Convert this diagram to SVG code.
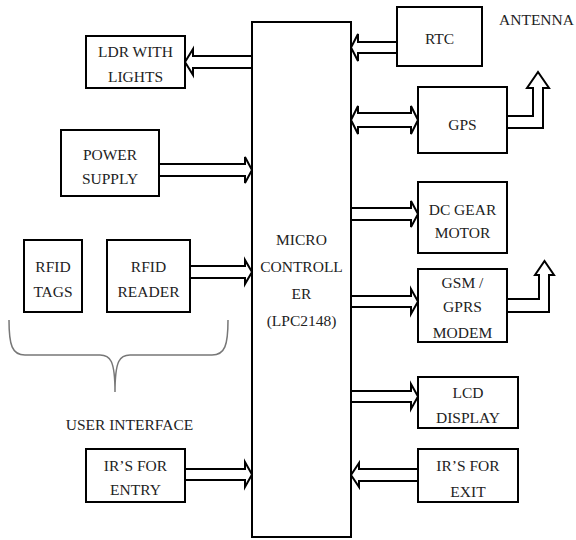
<svg xmlns="http://www.w3.org/2000/svg" width="576" height="540" viewBox="0 0 576 540">
<style>
.box{fill:#fff;stroke:#000;stroke-width:2}
.t{font-family:"Liberation Serif","Times New Roman",serif;font-size:15.5px;fill:#222;text-anchor:middle}
.ar{fill:#fff;stroke:#000;stroke-width:2;stroke-linejoin:miter}
.brace{fill:none;stroke:#777;stroke-width:1.5}
</style>
<rect width="576" height="540" fill="#fff"/>
<g id="connectors">
<path class="ar" d="M252,56 H193 V49 L185,62 L193,75 V68 H252"/>
<path class="ar" d="M159,164 H245 V157 L252,170 L245,183 V176 H159"/>
<path class="ar" d="M190,266 H245 V260 L252,272 L245,284 V278 H190"/>
<path class="ar" d="M185,469 H245 V462 L252,474.5 L245,487 V480 H185"/>
<path class="ar" d="M397,42 H358 V34 L351,47.5 L358,61 V53 H397"/>
<path class="ar" d="M358,113 H411 V106 L418,120 L411,134 V127 H358 V134 L351,120 L358,106 Z"/>
<path class="ar" d="M351,208 H411 V201 L418,214 L411,227 V220 H351"/>
<path class="ar" d="M351,296 H411 V289 L418,301.5 L411,314 V307 H351"/>
<path class="ar" d="M351,391 H411 V384 L418,396.5 L411,409 V402 H351"/>
<path class="ar" d="M418,469 H359 V463 L351,475 L359,487 V481 H418"/>
<path class="ar" d="M507,116 H533 V88 H527 L538,72 L549,88 H543 V128 H507"/>
<path class="ar" d="M507,299 H539 V275 H535 L544.5,261 L554,275 H549 V312 H507"/>
</g>
<g id="mc">
<rect class="box" x="252" y="22" width="99" height="515"/>
<text class="t" x="301.5" y="245">MICRO</text>
<text class="t" x="301.5" y="272">CONTROLL</text>
<text class="t" x="301.5" y="299">ER</text>
<text class="t" x="301.5" y="326">(LPC2148)</text>
</g>
<g id="ldr">
<rect class="box" x="86" y="36" width="99" height="52"/>
<text class="t" x="135.5" y="57">LDR WITH</text>
<text class="t" x="135.5" y="82">LIGHTS</text>
</g>
<g id="power">
<rect class="box" x="61" y="130" width="98" height="66"/>
<text class="t" x="110" y="160">POWER</text>
<text class="t" x="110" y="184">SUPPLY</text>
</g>
<g id="rfidtags">
<rect class="box" x="24" y="240" width="58" height="72"/>
<text class="t" x="53" y="272">RFID</text>
<text class="t" x="53" y="297">TAGS</text>
</g>
<g id="rfidreader">
<rect class="box" x="107" y="240" width="83" height="72"/>
<text class="t" x="148.5" y="272">RFID</text>
<text class="t" x="148.5" y="297">READER</text>
</g>
<g id="userinterface">
<path class="brace" d="M9,320 C9,345 12,355 25,355 H100 C110,355 115,360 115,392 C115,360 120,355 130,355 H212 C225,355 228,345 228,320"/>
<text class="t" x="129.5" y="430">USER INTERFACE</text>
</g>
<g id="irentry">
<rect class="box" x="86" y="449" width="99" height="53"/>
<text class="t" x="135.5" y="471">IR’S FOR</text>
<text class="t" x="135.5" y="495">ENTRY</text>
</g>
<g id="rtc">
<rect class="box" x="397" y="7" width="85" height="59"/>
<text class="t" x="439.5" y="44">RTC</text>
</g>
<g id="antenna">
<text class="t" x="536.5" y="25">ANTENNA</text>
</g>
<g id="gps">
<rect class="box" x="418" y="87" width="89" height="66"/>
<text class="t" x="462.5" y="130">GPS</text>
</g>
<g id="dcmotor">
<rect class="box" x="418" y="182" width="89" height="71"/>
<text class="t" x="462.5" y="215">DC GEAR</text>
<text class="t" x="462.5" y="238">MOTOR</text>
</g>
<g id="gsm">
<rect class="box" x="418" y="269" width="89" height="73"/>
<text class="t" x="462.5" y="288">GSM /</text>
<text class="t" x="462.5" y="312">GPRS</text>
<text class="t" x="462.5" y="338">MODEM</text>
</g>
<g id="lcd">
<rect class="box" x="418" y="377" width="100" height="51"/>
<text class="t" x="468" y="398">LCD</text>
<text class="t" x="468" y="423">DISPLAY</text>
</g>
<g id="irexit">
<rect class="box" x="418" y="449" width="100" height="53"/>
<text class="t" x="468" y="471">IR’S FOR</text>
<text class="t" x="468" y="497">EXIT</text>
</g>
</svg>
